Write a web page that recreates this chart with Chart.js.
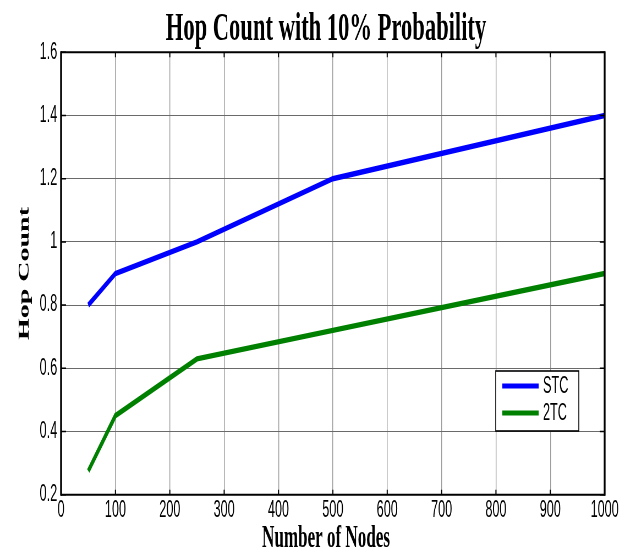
<!DOCTYPE html>
<html>
<head>
<meta charset="utf-8">
<script src="https://cdn.jsdelivr.net/npm/chart.js@4/dist/chart.umd.min.js"></script>
<style>
  html, body { margin: 0; padding: 0; overflow: hidden; background: #fff; }
  #chart { display: block; transform-origin: 0 0; }
</style>
</head>
<body>
<canvas id="chart" width="1156" height="555"></canvas>
<script>
// data
const nodeCounts = [50, 100, 250, 500, 1000]
const stcHops = [0.80, 0.90, 1.00, 1.20, 1.40]
const twoTcHops = [0.275, 0.45, 0.63, 0.72, 0.90]
const seriesNames = ["STC", "2TC"]
const xTicks = [0, 100, 200, 300, 400, 500, 600, 700, 800, 900, 1000]
const yTicks = [0.2, 0.4, 0.6, 0.8, 1.0, 1.2, 1.4, 1.6]
const chartTitle = "Hop Count with 10% Probability"
const xTitle = "Number of Nodes"
const yTitle = "Hop Count"

// the original figure is squeezed sideways, so the canvas is drawn wide and scaled down
const SQUEEZE = 636 / 1156
const canvas = document.getElementById("chart")
canvas.style.width = "1156px"
canvas.style.height = "555px"
canvas.style.transform = "scaleX(" + SQUEEZE + ")"

const SERIF = "'Liberation Serif', 'Times New Roman', serif"
const SANS = "'Liberation Sans', Arial, sans-serif"

const toPoints = ys => nodeCounts.map((x, i) => ({ x: x, y: ys[i] }))

// box, inward tick marks, titles and legend in the matlab style
const matlabFrame = {
  id: "matlabFrame",
  afterDraw(chart) {
    const { ctx, chartArea: a, scales } = chart
    const midX = 326 / SQUEEZE
    ctx.save()
    ctx.strokeStyle = "#000"
    // tick marks
    ctx.lineWidth = 2
    xTicks.forEach(v => {
      const px = scales.x.getPixelForValue(v)
      ctx.beginPath()
      ctx.moveTo(px, a.bottom); ctx.lineTo(px, a.bottom - 5)
      ctx.moveTo(px, a.top); ctx.lineTo(px, a.top + 5)
      ctx.stroke()
    })
    ctx.lineWidth = 1.5
    yTicks.forEach(v => {
      const py = scales.y.getPixelForValue(v)
      ctx.beginPath()
      ctx.moveTo(a.left, py); ctx.lineTo(a.left + 9, py)
      ctx.moveTo(a.right, py); ctx.lineTo(a.right - 9, py)
      ctx.stroke()
    })
    // box: vertical sides thicker to survive the squeeze
    ctx.lineWidth = 3.4
    ctx.beginPath()
    ctx.moveTo(a.left, a.top - 1); ctx.lineTo(a.left, a.bottom + 1)
    ctx.moveTo(a.right, a.top - 1); ctx.lineTo(a.right, a.bottom + 1)
    ctx.stroke()
    ctx.lineWidth = 2
    ctx.beginPath()
    ctx.moveTo(a.left, a.top); ctx.lineTo(a.right, a.top)
    ctx.moveTo(a.left, a.bottom); ctx.lineTo(a.right, a.bottom)
    ctx.stroke()

    // titles
    ctx.fillStyle = "#000"
    ctx.textAlign = "center"
    ctx.textBaseline = "alphabetic"
    ctx.font = "bold 41px " + SERIF
    ctx.fillText(chartTitle, midX, 40)
    ctx.font = "bold 31px " + SERIF
    ctx.fillText(xTitle, midX, 546.5)

    // legend
    const bx = 901, by = 371, bw = 151, bh = 60
    ctx.fillStyle = "#fff"
    ctx.fillRect(bx, by, bw, bh)
    ctx.lineWidth = 1.6
    ctx.strokeRect(bx, by, bw, bh)
    ctx.font = "23px " + SANS
    ctx.textBaseline = "middle"
    ctx.textAlign = "left"
    chart.data.datasets.forEach((ds, i) => {
      const ly = by + 15 + i * 27
      ctx.strokeStyle = ds.borderColor
      ctx.lineWidth = 5
      ctx.beginPath()
      ctx.moveTo(bx + 12, ly); ctx.lineTo(bx + 78, ly)
      ctx.stroke()
      ctx.fillStyle = "#000"
      ctx.fillText(ds.label, bx + 86, ly + 1)
    })
    ctx.restore()
  }
}

new Chart(canvas, {
  type: "line",
  data: {
    datasets: [
      { label: seriesNames[0], data: toPoints(stcHops), borderColor: "#0000ff", backgroundColor: "#0000ff" },
      { label: seriesNames[1], data: toPoints(twoTcHops), borderColor: "#008000", backgroundColor: "#008000" }
    ]
  },
  options: {
    responsive: false,
    animation: false,
    devicePixelRatio: 1,
    layout: { padding: { left: 0, right: 57, top: 52.3, bottom: 0 } },
    elements: {
      line: { borderWidth: 5.5, tension: 0, borderCapStyle: "butt", borderJoinStyle: "miter" },
      point: { radius: 0, hoverRadius: 0 }
    },
    plugins: {
      legend: { display: false },
      tooltip: { enabled: false },
      title: { display: false }
    },
    scales: {
      x: {
        type: "linear",
        min: 0,
        max: 1000,
        afterBuildTicks: s => { s.ticks = xTicks.map(v => ({ value: v })) },
        afterFit: s => { s.height = 60.3 },
        border: { display: false },
        grid: { color: "#9a9a9a", lineWidth: 1.4, borderDash: [3, 3], drawTicks: false },
        ticks: {
          color: "#000",
          padding: 2,
          maxRotation: 0,
          font: { family: SANS, size: 23 },
          callback: v => String(v)
        }
      },
      y: {
        min: 0.2,
        max: 1.6,
        afterBuildTicks: s => { s.ticks = yTicks.map(v => ({ value: v })) },
        afterFit: s => { s.width = 111 },
        border: { display: false },
        grid: { color: "#6a6a6a", lineWidth: 1, borderDash: [2, 1], drawTicks: false },
        ticks: {
          color: "#000",
          padding: 7,
          font: { family: SANS, size: 23 },
          callback: v => String(+v.toFixed(1))
        },
        title: {
          display: true,
          text: yTitle,
          color: "#000",
          font: { family: SERIF, size: 28, weight: "bold" },
          padding: { top: 28, bottom: 0 }
        }
      }
    }
  },
  plugins: [matlabFrame]
})
</script>
</body>
</html>
